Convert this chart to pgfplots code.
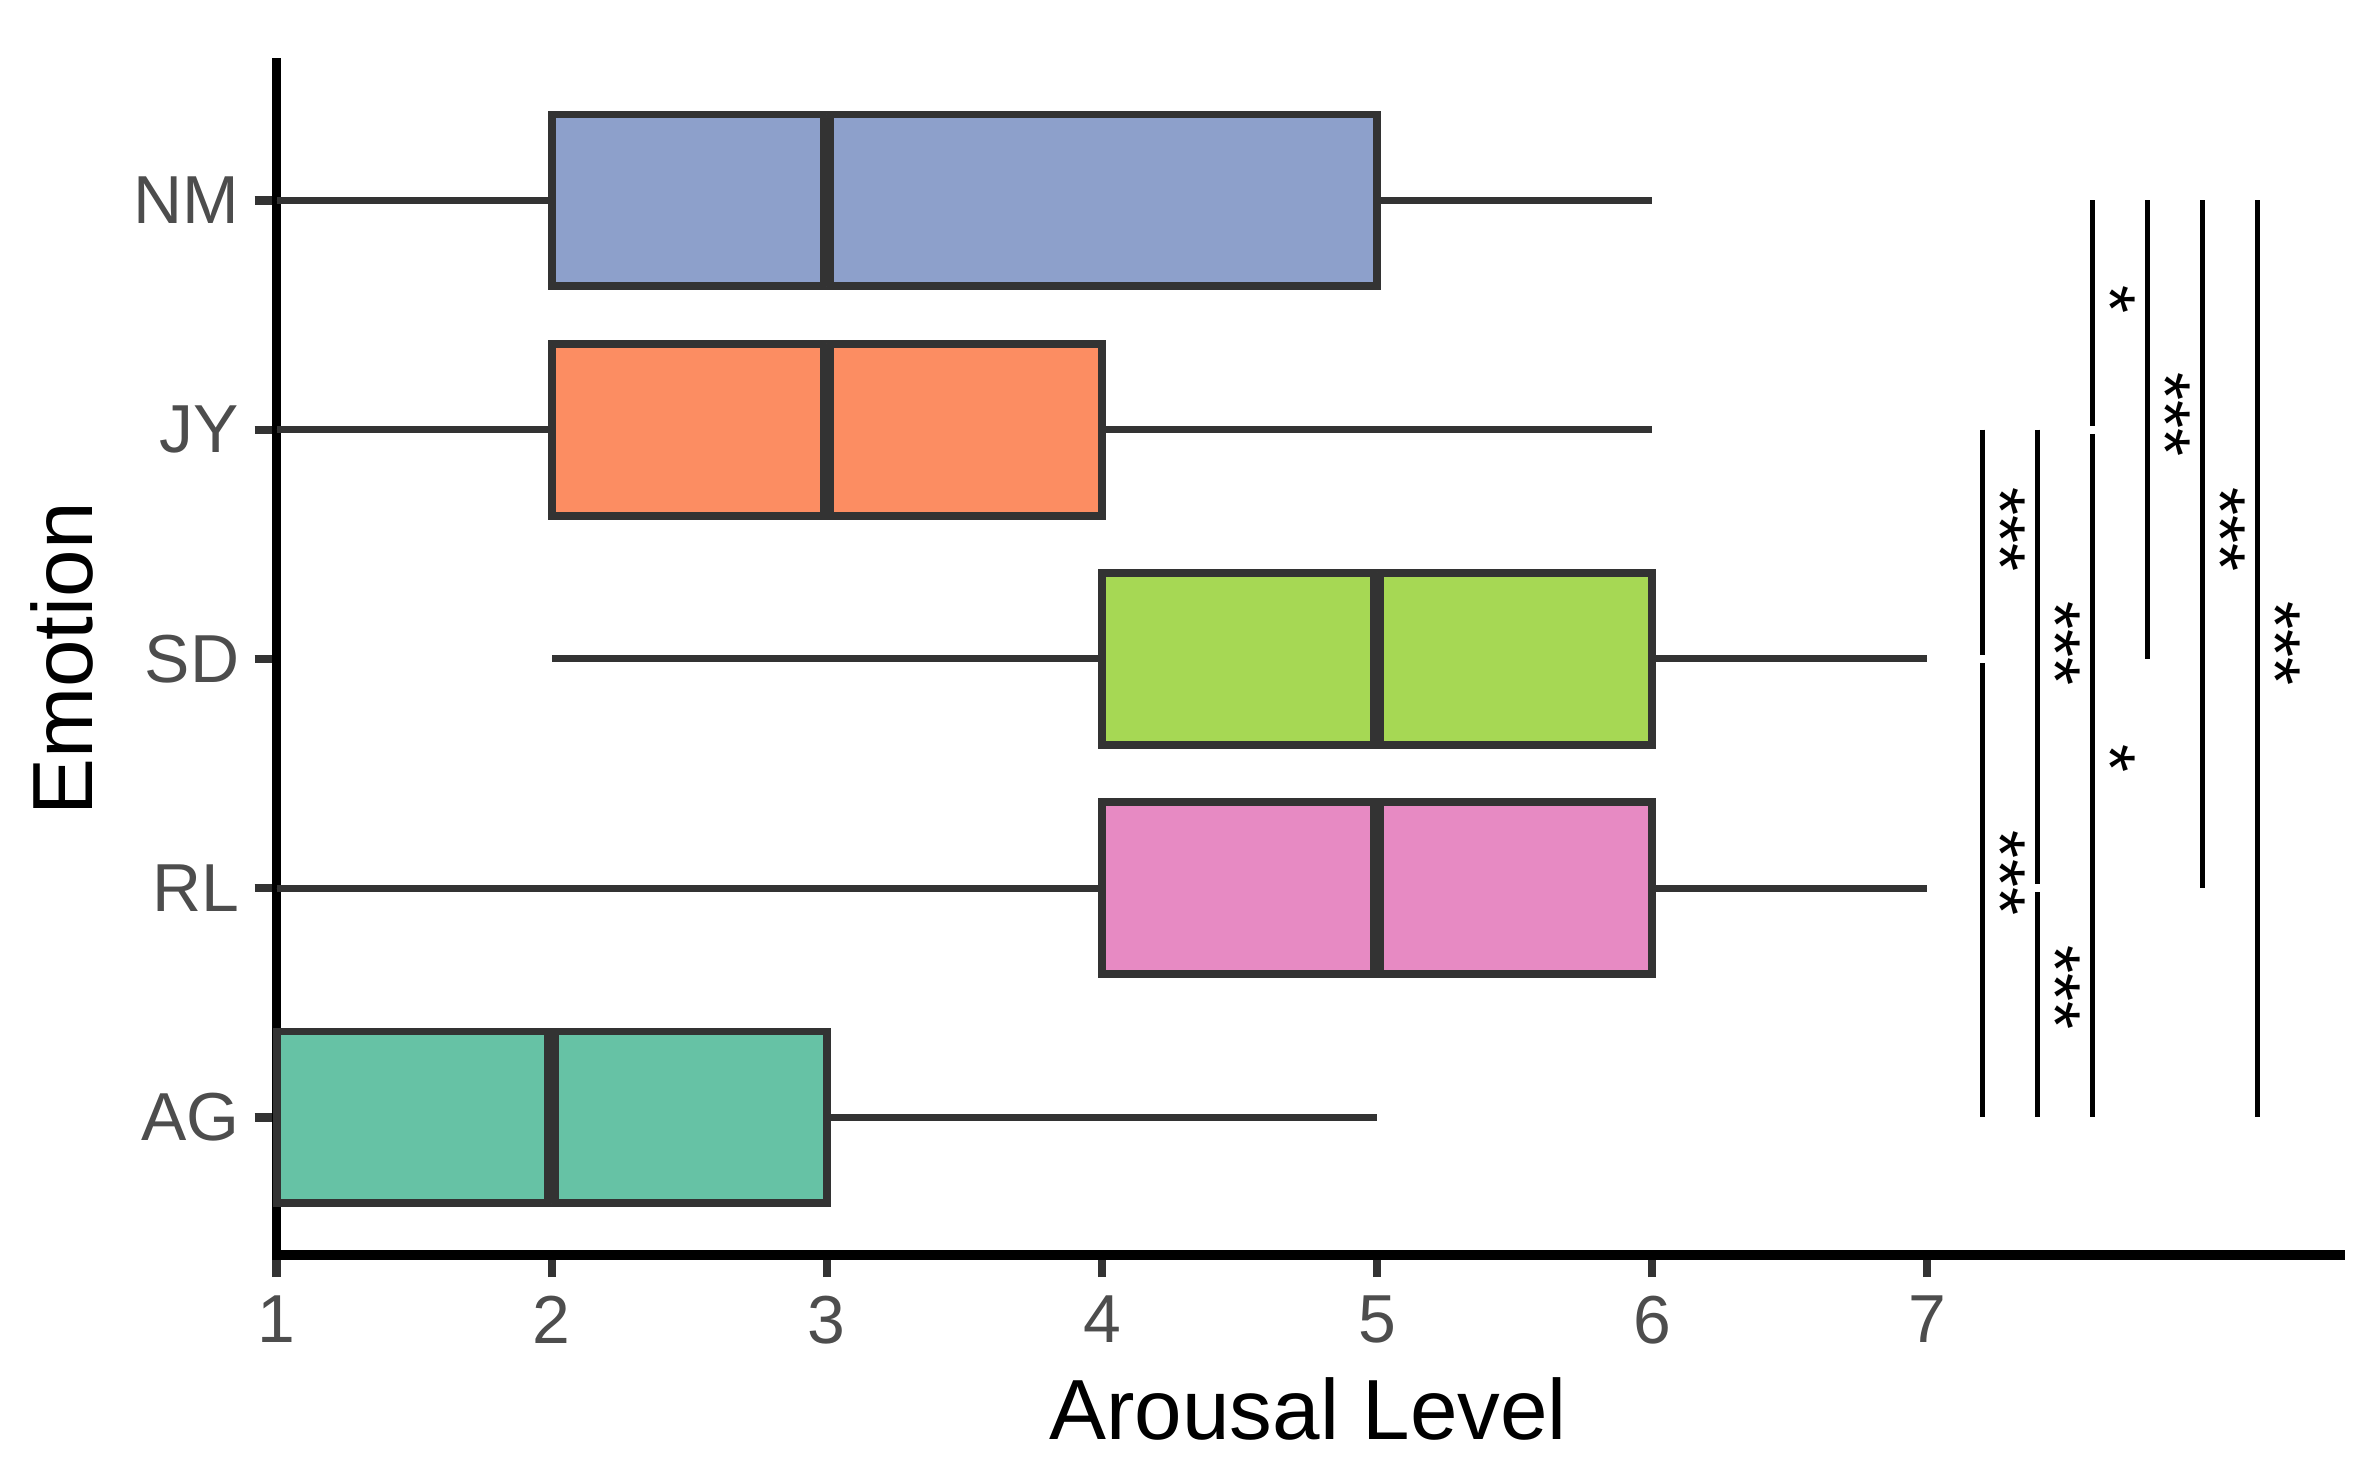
\documentclass[border=0pt]{standalone}
\usepackage{pgfplots}
\pgfplotsset{compat=1.18}
\usepgfplotslibrary{statistics}
\usepackage{fontspec}
\setmainfont{Liberation Sans}
\definecolor{cNM}{HTML}{8DA0CB}
\definecolor{cJY}{HTML}{FC8D62}
\definecolor{cSD}{HTML}{A6D854}
\definecolor{cRL}{HTML}{E78AC3}
\definecolor{cAG}{HTML}{66C2A5}
\definecolor{cline}{HTML}{333333}
\definecolor{ctick}{HTML}{4D4D4D}
\pgfplotsset{
  gbox/.style={draw=cline, line width=1.9bp,
    boxplot/every median/.style={line width=3.5bp},
    boxplot/every whisker/.style={line width=1.7bp},
    boxplot/box extend=0.75, boxplot/whisker extend=0},
  sig/.style={black, line width=1.2bp},
}
\newcommand{\starfont}{\fontsize{17.3bp}{20bp}\selectfont}
\begin{document}
\begin{tikzpicture}
\begin{axis}[
  scale only axis, width=495.2bp, height=286.1bp,
  xmin=1, xmax=8.5, ymin=0.4, ymax=5.6,
  axis lines*=left,
  axis line style={line width=2.3bp, black, line cap=rect, -},
  xtick={1,2,3,4,5,6,7}, ytick={1,2,3,4,5},
  yticklabels={AG,RL,SD,JY,NM},
  tick align=outside, major tick length=5.3bp,
  major tick style={line width=2bp, cline},
  /pgf/number format/assume math mode=true,
  ticklabel style={font=\fontsize{16.3bp}{19bp}\selectfont, text=ctick},
  xticklabel style={inner sep=0pt, anchor=north, yshift=-4.3bp},
  yticklabel style={inner sep=0pt, anchor=east, xshift=-3.5bp},
  clip=false,
  xlabel={Arousal Level}, ylabel={Emotion},
  every axis x label/.style={at={([yshift=-44.4bp]axis description cs:0.5,0)}, anchor=base, font=\fontsize{20.5bp}{24bp}\selectfont},
  every axis y label/.style={at={([xshift=-51.5bp]axis description cs:0,0.5)}, anchor=center, rotate=90, font=\fontsize{20.5bp}{24bp}\selectfont},
  boxplot/draw direction=x,
]
% AG
\addplot[gbox, fill=cAG, boxplot prepared={draw position=1, lower whisker=1, lower quartile=1, median=2, upper quartile=3, upper whisker=5}] coordinates {};
% RL
\addplot[gbox, fill=cRL, boxplot prepared={draw position=2, lower whisker=1, lower quartile=4, median=5, upper quartile=6, upper whisker=7}] coordinates {};
% SD
\addplot[gbox, fill=cSD, boxplot prepared={draw position=3, lower whisker=2, lower quartile=4, median=5, upper quartile=6, upper whisker=7}] coordinates {};
% JY
\addplot[gbox, fill=cJY, boxplot prepared={draw position=4, lower whisker=1, lower quartile=2, median=3, upper quartile=4, upper whisker=6}] coordinates {};
% NM
\addplot[gbox, fill=cNM, boxplot prepared={draw position=5, lower whisker=1, lower quartile=2, median=3, upper quartile=5, upper whisker=6}] coordinates {};

% significance brackets
\addplot[sig] coordinates {(7.2,4) (7.2,3.018)};
\addplot[sig] coordinates {(7.2,2.982) (7.2,1)};
\addplot[sig] coordinates {(7.4,4) (7.4,2.018)};
\addplot[sig] coordinates {(7.4,1.982) (7.4,1)};
\addplot[sig] coordinates {(7.6,5) (7.6,4.018)};
\addplot[sig] coordinates {(7.6,3.982) (7.6,1)};
\addplot[sig] coordinates {(7.8,5) (7.8,3)};
\addplot[sig] coordinates {(8.0,5) (8.0,2)};
\addplot[sig] coordinates {(8.2,5) (8.2,1)};

\node[rotate=-90, anchor=center, font=\starfont] at (axis cs:7.265,3.566) {***};
\node[rotate=-90, anchor=center, font=\starfont] at (axis cs:7.265,2.066) {***};
\node[rotate=-90, anchor=center, font=\starfont] at (axis cs:7.465,3.066) {***};
\node[rotate=-90, anchor=center, font=\starfont] at (axis cs:7.465,1.566) {***};
\node[rotate=-90, anchor=center, font=\starfont] at (axis cs:7.665,4.566) {*};
\node[rotate=-90, anchor=center, font=\starfont] at (axis cs:7.665,2.566) {*};
\node[rotate=-90, anchor=center, font=\starfont] at (axis cs:7.865,4.066) {***};
\node[rotate=-90, anchor=center, font=\starfont] at (axis cs:8.065,3.566) {***};
\node[rotate=-90, anchor=center, font=\starfont] at (axis cs:8.265,3.066) {***};

\coordinate (axsw) at (rel axis cs:0,0);
\coordinate (axne) at (rel axis cs:1,1);
\end{axis}
\pgfresetboundingbox
\path ([xshift=-66.4bp,yshift=-51.6bp]axsw) rectangle ([xshift=7.7bp,yshift=15.1bp]axne);
\end{tikzpicture}
\end{document}
